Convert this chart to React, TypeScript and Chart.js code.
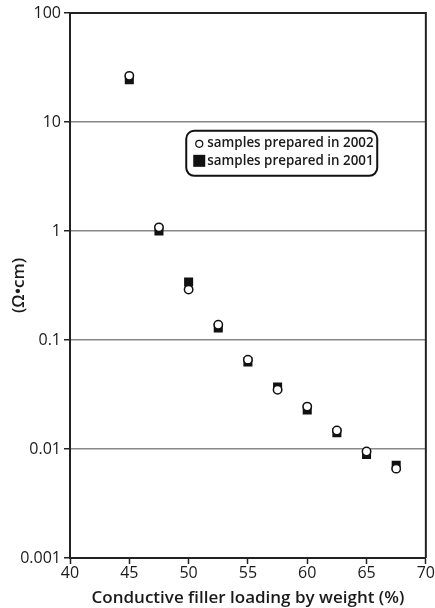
import React, { useEffect, useRef } from "react";
import { Chart, registerables } from "chart.js";

Chart.register(...registerables);

const loading = [45, 47.5, 50, 52.5, 55, 57.5, 60, 62.5, 65, 67.5];
const res2002 = [26.5, 1.08, 0.29, 0.138, 0.066, 0.035, 0.0245, 0.0148, 0.0095, 0.0066];
const res2001 = [24.4, 1.0, 0.34, 0.129, 0.063, 0.037, 0.0228, 0.0141, 0.0089, 0.0071];
const yTicks = [0.001, 0.01, 0.1, 1, 10, 100];
const labels = ["samples prepared in 2002", "samples prepared in 2001"];
const xTitle = "Conductive filler loading by weight (%)";
const yTitle = "(Ω•cm)";

const FONT = "'Open Sans', 'DejaVu Sans', sans-serif";

const framePlugin = {
  id: "frameLegend",
  afterDraw(chart: any) {
    const { ctx, chartArea } = chart;
    const { left, right, top, bottom } = chartArea;
    ctx.save();
    ctx.strokeStyle = "#222";
    ctx.lineWidth = 2;
    ctx.beginPath();
    ctx.moveTo(left, top);
    ctx.lineTo(right, top);
    ctx.lineTo(right, bottom);
    ctx.stroke();

    // legend
    const xs = chart.scales.x;
    const ys = chart.scales.y;
    const bx = xs.getPixelForValue(49.8);
    const by = ys.getPixelForValue(8.3);
    const bw = 191;
    const bh = 45;
    ctx.lineWidth = 2;
    ctx.strokeStyle = "#111";
    ctx.fillStyle = "#fff";
    ctx.beginPath();
    ctx.roundRect(bx, by, bw, bh, 8);
    ctx.fill();
    ctx.stroke();

    ctx.font = `600 13.4px ${FONT}`;
    ctx.textBaseline = "middle";
    // item 1: circle
    ctx.beginPath();
    ctx.arc(bx + 13, by + 13, 3.5, 0, Math.PI * 2);
    ctx.fillStyle = "#fff";
    ctx.fill();
    ctx.lineWidth = 1.2;
    ctx.strokeStyle = "#111";
    ctx.stroke();
    ctx.fillStyle = "#1a1a1a";
    ctx.fillText(labels[0], bx + 21, by + 12);
    // item 2: square
    ctx.fillStyle = "#111";
    ctx.fillRect(bx + 7, by + 24, 12, 12);
    ctx.fillStyle = "#1a1a1a";
    ctx.fillText(labels[1], bx + 21, by + 30);
    ctx.restore();
  },
};

export default function App() {
  const ref = useRef<HTMLCanvasElement>(null);
  useEffect(() => {
    if (!ref.current) return;
    const chart = new Chart(ref.current, {
      type: "scatter",
      data: {
        datasets: [
          {
            label: labels[0],
            data: loading.map((x, i) => ({ x, y: res2002[i] })),
            pointStyle: "circle",
            pointRadius: 4.2,
            pointBackgroundColor: "#fff",
            pointBorderColor: "#111",
            pointBorderWidth: 1.5,
          },
          {
            label: labels[1],
            data: loading.map((x, i) => ({ x, y: res2001[i] })),
            pointStyle: "rect",
            pointRadius: 6.4,
            pointBackgroundColor: "#111",
            pointBorderColor: "#111",
            pointBorderWidth: 0,
          },
        ],
      },
      options: {
        animation: false,
        responsive: false,
        maintainAspectRatio: false,
        layout: { padding: { top: 13, right: 6, left: 0, bottom: 0 } },
        plugins: { legend: { display: false }, tooltip: { enabled: false } },
        scales: {
          x: {
            type: "linear",
            min: 40,
            max: 70,
            ticks: { stepSize: 5, color: "#1a1a1a", font: { family: FONT, size: 16, weight: 500 }, padding: 0, maxRotation: 0 },
            grid: { drawOnChartArea: false, tickLength: 6, tickColor: "#222", tickWidth: 1.5 },
            border: { display: true, color: "#222", width: 2 },
            title: {
              display: true,
              text: xTitle,
              color: "#1a1a1a",
              font: { family: FONT, size: 17, weight: 600 },
              padding: { top: 1, bottom: 0 },
            },
            afterFit(s: any) {
              s.height = 50;
            },
          },
          y: {
            type: "logarithmic",
            min: 0.001,
            max: 100,
            afterBuildTicks(s: any) {
              s.ticks = yTicks.map((v) => ({ value: v, major: true }));
            },
            ticks: {
              color: "#1a1a1a",
              font: { family: FONT, size: 16, weight: 500 },
              padding: 3,
              callback: (v: any) => String(Number(v)),
            },
            grid: { color: "#888", lineWidth: 1.5, tickLength: 6, tickColor: "#222", tickWidth: 1.5 },
            border: { display: true, color: "#222", width: 2 },
            title: {
              display: true,
              text: yTitle,
              color: "#1a1a1a",
              font: { family: FONT, size: 17, weight: 600 },
              padding: { top: 9, bottom: 0 },
            },
            afterFit(s: any) {
              s.width = 70;
            },
          },
        },
      },
      plugins: [framePlugin],
    });
    return () => chart.destroy();
  }, []);
  return (
    <div style={{ position: "fixed", left: 0, top: 0, width: 435, height: 608, background: "#fff" }}>
      <canvas ref={ref} width={435} height={608} style={{ display: "block" }} />
    </div>
  );
}
